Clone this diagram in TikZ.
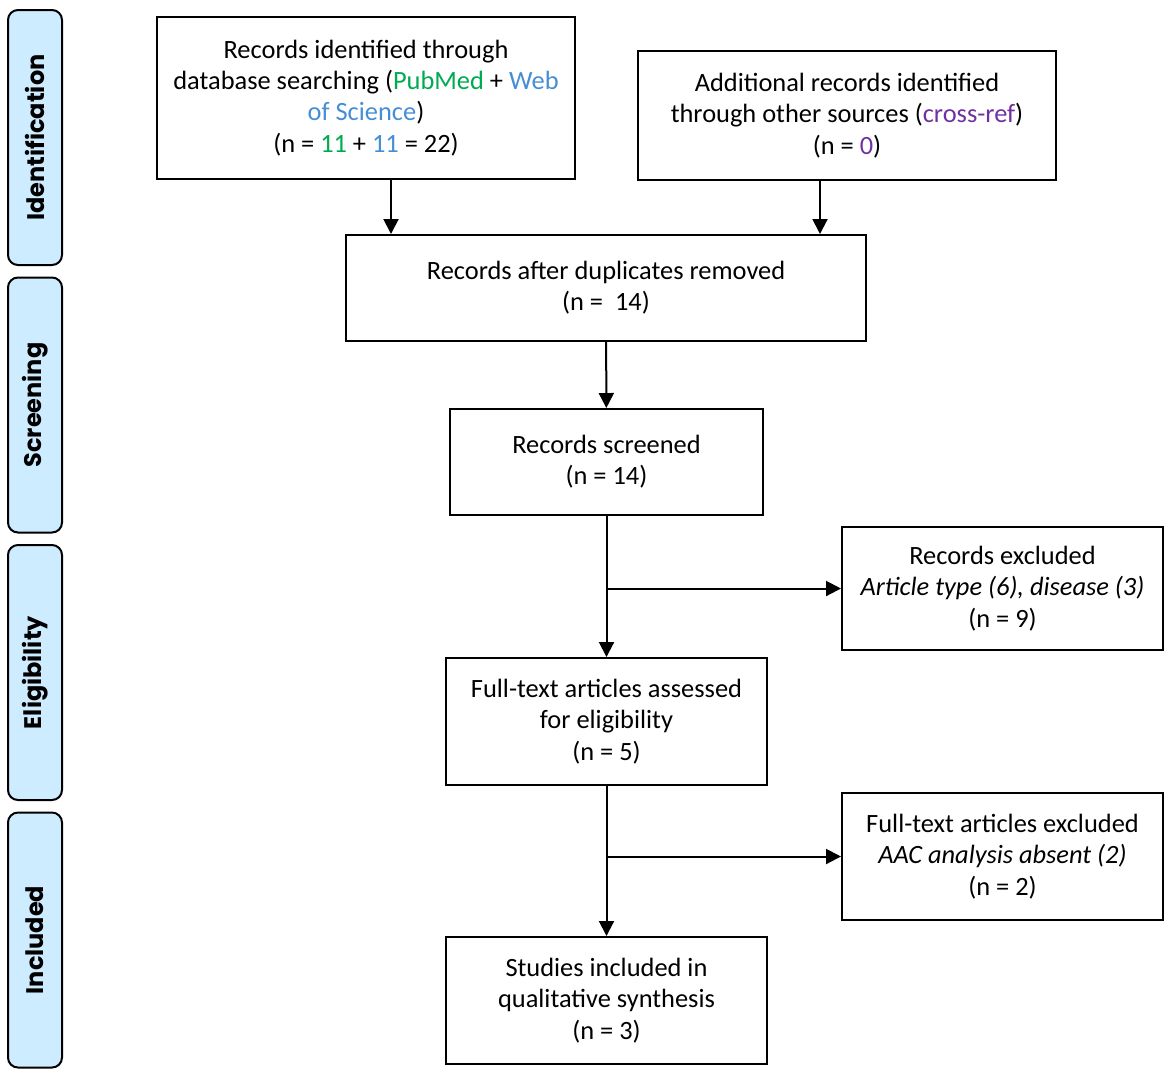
\documentclass[tikz,border=0pt]{standalone}
\usepackage{fontspec}
\setmainfont{Carlito}
\newfontfamily\phasefont{Poppins}
\usetikzlibrary{arrows.meta}
\definecolor{pubgreen}{RGB}{0,170,80}
\definecolor{wosblue}{RGB}{70,142,212}
\definecolor{refpurple}{RGB}{112,48,160}
\definecolor{phasefill}{RGB}{206,236,255}
\tikzset{
  flowbox/.style={rectangle, draw, line width=1pt, align=center, inner sep=2pt,
    font=\fontsize{13.2}{15.6}\selectfont},
  phasebox/.style={rectangle, draw, line width=1pt, rounded corners=5pt, fill=phasefill,
    minimum width=27pt, minimum height=127.5pt, inner sep=0pt},
  phaselabel/.style={rotate=90, font=\phasefont\bfseries\fontsize{12}{14}\selectfont},
  flow/.style={-{Triangle[length=7.5pt,width=7.5pt]}, line width=1pt}
}
\begin{document}
\begin{tikzpicture}[x=0.5pt, y=-0.5pt]
  \useasboundingbox (0,0) rectangle (1170,1077);
  % Phases
  \node (ident) [phasebox] at (35, 137.5) {};
  \node [phaselabel] at (ident) {Identification};
  \node (screen) [phasebox] at (35, 405) {};
  \node [phaselabel] at (screen) {Screening};
  \node (elig) [phasebox] at (35, 672.5) {};
  \node [phaselabel] at (elig) {Eligibility};
  \node (incl) [phasebox] at (35, 940) {};
  \node [phaselabel] at (incl) {Included};
  % Nodes
  \node (database) [flowbox, minimum width=209pt, minimum height=81pt] at (366, 98)
    {Records identified through\\database searching (\textcolor{pubgreen}{PubMed} + \textcolor{wosblue}{Web}\\\textcolor{wosblue}{of Science})\\(n = \textcolor{pubgreen}{11} + \textcolor{wosblue}{11} = 22)};
  \node (other) [flowbox, minimum width=209pt, minimum height=64.5pt] at (847, 115.5)
    {Additional records identified\\through other sources (\textcolor{refpurple}{cross-ref})\\(n = \textcolor{refpurple}{0})};
  \node (duplicates) [flowbox, minimum width=260pt, minimum height=53pt] at (606, 288)
    {Records after duplicates removed\\(n =\ \ 14)};
  \node (screened) [flowbox, minimum width=156.5pt, minimum height=53pt] at (606.5, 462)
    {Records screened\\(n = 14)};
  \node (excluded) [flowbox, minimum width=160.5pt, minimum height=61.5pt] at (1002.5, 588.5)
    {Records excluded\\\textit{Article type (6), disease (3)}\\(n = 9)};
  \node (fulltext) [flowbox, minimum width=160.5pt, minimum height=63.5pt] at (606.5, 721.5)
    {Full-text articles assessed\\for eligibility\\(n = 5)};
  \node (ftexcluded) [flowbox, minimum width=160.5pt, minimum height=63.5pt] at (1002.5, 856.5)
    {Full-text articles excluded\\\textit{AAC analysis absent (2)}\\(n = 2)};
  \node (included) [flowbox, minimum width=160.5pt, minimum height=63.5pt] at (606.5, 1000.5)
    {Studies included in\\qualitative synthesis\\(n = 3)};
  % Arrows
  \draw[flow] ([xshift=12.5pt]database.south) -- ([xshift=12.5pt]database.south |- duplicates.north);
  \draw[flow] ([xshift=-13.5pt]other.south) -- ([xshift=-13.5pt]other.south |- duplicates.north);
  \draw[flow] (duplicates) -- (screened);
  \draw[flow] (screened) -- (fulltext);
  \draw[flow] (screened.south |- excluded.west) -- (excluded.west);
  \draw[flow] (fulltext) -- (included);
  \draw[flow] (fulltext.south |- ftexcluded.west) -- (ftexcluded.west);
\end{tikzpicture}
\end{document}
